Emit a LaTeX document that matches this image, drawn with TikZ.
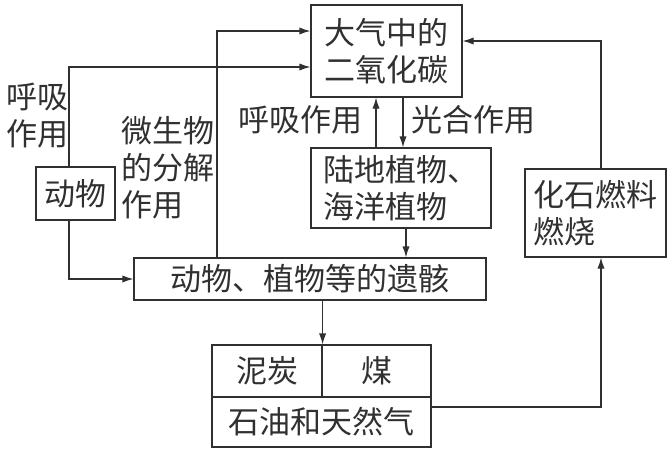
\documentclass[tikz,border=0pt]{standalone}
\usepackage{fontspec}
\setmainfont{Noto Sans CJK SC}
\usetikzlibrary{arrows.meta}
\definecolor{ink}{HTML}{303030}
\tikzset{
  box/.style={draw=ink, line width=0.6pt, inner sep=0pt, text=ink, font=\fontsize{15.5}{18.5}\selectfont},
  lbl/.style={inner sep=0pt, text=ink, font=\fontsize{15.5}{18.5}\selectfont, align=left},
  arr/.style={draw=ink, line width=0.6pt, -{Latex[length=5.5pt,width=3.6pt]}},
  ln/.style={draw=ink, line width=0.6pt}
}
\begin{document}
\begin{tikzpicture}[x=0.5pt,y=-0.5pt]
\useasboundingbox (0,0) rectangle (669,450);
% boxes
\node[box, minimum width=75.5pt, minimum height=46pt, align=center] (co2) at (386.5,51) {大气中的\\二氧化碳};
\node[box, minimum width=90pt, minimum height=40pt, align=left] (plant) at (401,188) {陆地植物、\\海洋植物};
\node[box, minimum width=70.5pt, minimum height=44pt, align=left] (fossil) at (595.5,213) {化石燃料\\燃烧};
\node[box, minimum width=39.5pt, minimum height=26.5pt] (animal) at (75.5,193.5) {动物};
\node[box, minimum width=176pt, minimum height=21pt] (remains) at (310,279) {动物、植物等的遗骸};
\node[box, minimum width=55pt, minimum height=26pt] (peat) at (267,371) {泥炭};
\node[box, minimum width=54.5pt, minimum height=26pt] (coal) at (376.5,371) {煤};
\node[box, minimum width=109.5pt, minimum height=25pt] (oil) at (321.5,422) {石油和天然气};
% labels
\node[lbl] (lresp1) at (37,116) {呼吸\\作用};
\node[lbl] (lmicro) at (168,168) {微生物\\的分解\\作用};
\node[lbl] (lresp2) at (300,120) {呼吸作用};
\node[lbl] (lphoto) at (473,120) {光合作用};
% helper coordinates
\coordinate (r1) at (69,67);
\coordinate (m1) at (217,31);
\coordinate (p1) at (376,0);
\coordinate (p2) at (403,0);
\coordinate (p3) at (406,0);
\coordinate (f1) at (601,407);
\coordinate (f2) at (601,41);
% connectors
\draw[arr] (r1 |- animal.north) -- (r1) -- (r1 -| co2.west);
\draw[arr] (r1 |- animal.south) -- (r1 |- remains.west) -- (remains.west);
\draw[arr] (m1 |- remains.north) -- (m1) -- (m1 -| co2.west);
\draw[arr] (p1 |- plant.north) -- (p1 |- co2.south);
\draw[arr] (p2 |- co2.south) -- (p2 |- plant.north);
\draw[arr] (p3 |- plant.south) -- (p3 |- remains.north);
\draw[arr] (remains.south -| peat.north east) -- (peat.north east);
\draw[arr] (f1 -| oil.east) -- (f1) -- (f1 |- fossil.south);
\draw[arr] (f2 |- fossil.north) -- (f2) -- (f2 -| co2.east);
\end{tikzpicture}
\end{document}
